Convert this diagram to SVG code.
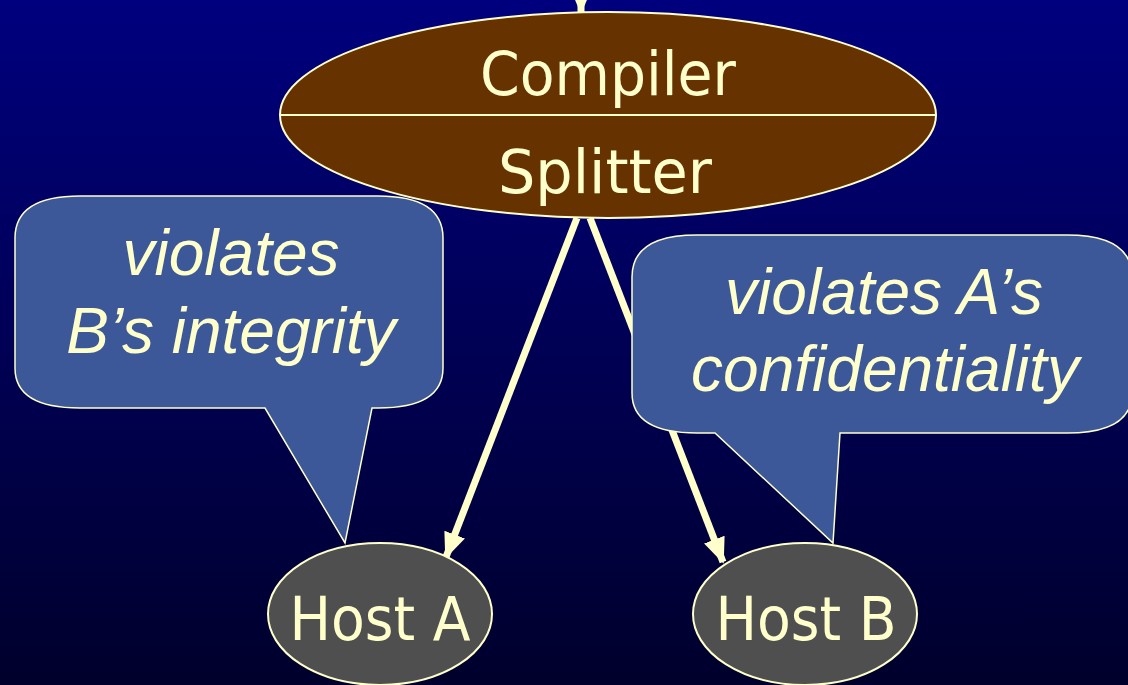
<svg xmlns="http://www.w3.org/2000/svg" width="1128" height="685" viewBox="0 0 1128 685">
<defs>
<linearGradient id="bg" x1="0" y1="0" x2="0" y2="1">
<stop offset="0" stop-color="#00007e"/>
<stop offset="1" stop-color="#00002c"/>
</linearGradient>
<marker id="ah" markerUnits="userSpaceOnUse" markerWidth="26" markerHeight="26" viewBox="0 0 26 26" refX="24" refY="13" orient="auto">
<path d="M0,2 L26,13 L0,24 Z" fill="#ffffcc"/>
</marker>
<style>
.conn{stroke:#ffffcc;stroke-width:7;fill:none;marker-end:url(#ah)}
.lbl{fill:#ffffcc;font-family:"DejaVu Sans Condensed","DejaVu Sans",sans-serif;font-size:60px;text-anchor:middle}
.call{fill:#3c5899;stroke:#ffffcc;stroke-width:1.5}
.ctxt{fill:#ffffcc;font-family:"Liberation Sans",Arial,sans-serif;font-style:italic;font-size:64px;text-anchor:middle}
.host{fill:#4f4f4f;stroke:#ffffcc;stroke-width:2}
</style>
</defs>
<rect width="1128" height="685" fill="url(#bg)"/>
<g id="connectors">
<line class="conn" x1="581" y1="-20" x2="581" y2="12"/>
<line class="conn" x1="577" y1="218" x2="446" y2="557"/>
<line class="conn" x1="590" y1="218" x2="723" y2="562"/>
</g>
<g id="compiler">
<ellipse cx="608" cy="115" rx="328" ry="103" fill="#663300" stroke="#ffffcc" stroke-width="2"/>
<line x1="280" y1="115" x2="936" y2="115" stroke="#ffffcc" stroke-width="2"/>
<text class="lbl" x="608" y="95" textLength="256" lengthAdjust="spacingAndGlyphs">Compiler</text>
<text class="lbl" x="605" y="193" textLength="214" lengthAdjust="spacingAndGlyphs">Splitter</text>
</g>
<g id="hostA">
<ellipse class="host" cx="380" cy="614" rx="112" ry="71"/>
<text class="lbl" x="380" y="640" textLength="181" lengthAdjust="spacingAndGlyphs">Host A</text>
</g>
<g id="hostB">
<ellipse class="host" cx="805" cy="614" rx="112" ry="71"/>
<text class="lbl" x="806" y="640" textLength="181" lengthAdjust="spacingAndGlyphs">Host B</text>
</g>
<g id="callout-left">
<path class="call" d="M80,196 L378,196 Q443,196 443,238 L443,368 Q443,408 378,408 L372,408 L345,543 L265,408 L80,408 Q15,408 15,368 L15,238 Q15,196 80,196 Z"/>
<text class="ctxt" x="231" y="275">violates</text>
<text class="ctxt" x="231" y="353">B’s integrity</text>
</g>
<g id="callout-right">
<path class="call" d="M697,235 L1067,235 Q1132,235 1132,277 L1132,393 Q1132,433 1067,433 L840,433 L833,543 L715,433 L697,433 Q632,433 632,393 L632,277 Q632,235 697,235 Z"/>
<text class="ctxt" x="884" y="314">violates A’s</text>
<text class="ctxt" x="885" y="391">confidentiality</text>
</g>
</svg>
